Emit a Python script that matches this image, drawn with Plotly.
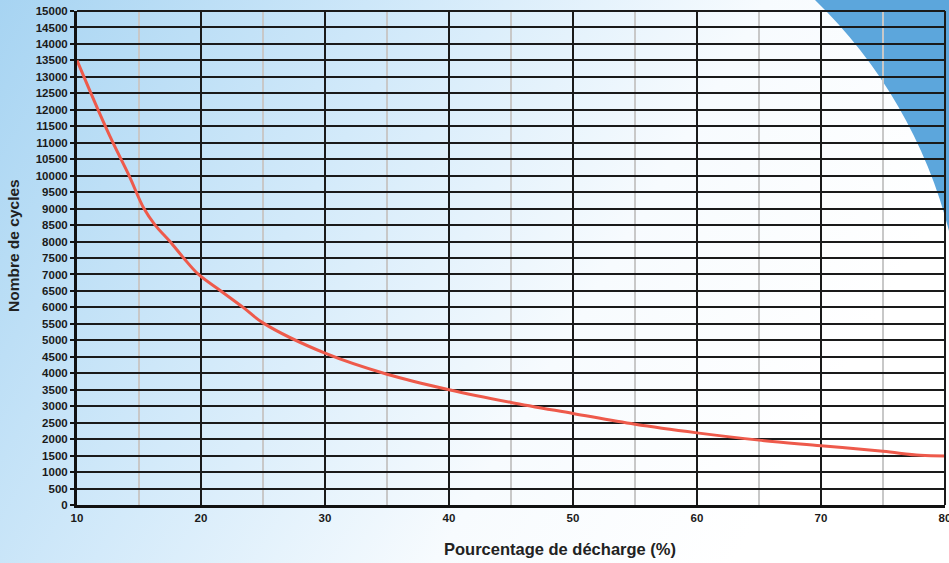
import base64
import plotly.graph_objects as go

# Data
discharge_pct = [10, 11.7, 12.9, 14.2, 15.4, 16.3, 17.5, 18.6, 19.8,
                 21.6, 23.4, 25, 30, 35, 40, 45, 50, 55, 60, 65, 70, 75, 78, 80]
cycles = [13500, 12000, 11000, 10000, 9000, 8500, 8000, 7500, 7000,
          6500, 6000, 5530, 4610, 3970, 3500, 3115, 2780, 2450, 2190, 1970, 1800, 1630, 1510, 1490]

x_ticks = [10, 20, 30, 40, 50, 60, 70, 80]
y_ticks = list(range(0, 15001, 500))

x_title = "Pourcentage de décharge (%)"
y_title = "Nombre de cycles"

W, H = 949, 563
ML, MR, MT, MB = 77, 4, 11, 58
PW, PH = W - ML - MR, H - MT - MB

svg = f"""<svg xmlns='http://www.w3.org/2000/svg' width='{W}' height='{H}' viewBox='0 0 {W} {H}' preserveAspectRatio='none'>
<defs><linearGradient id='g' x1='0' y1='0' x2='1' y2='0.35'>
<stop offset='0' stop-color='#A7D4F2'/>
<stop offset='0.4' stop-color='#D3EAFA'/>
<stop offset='0.72' stop-color='#F7FBFE'/>
<stop offset='1' stop-color='#FFFFFF'/>
</linearGradient></defs>
<rect x='0' y='0' width='{W}' height='{H}' fill='url(#g)'/>
<path d='M815,0 A489,489 0 0,1 949,231 L949,0 Z' fill='#5CA6DC'/>
</svg>"""
src = "data:image/svg+xml;base64," + base64.b64encode(svg.encode()).decode()

fig = go.Figure()
fig.add_trace(go.Scatter(
    x=discharge_pct, y=cycles, mode="lines",
    line=dict(color="#EE5A4B", width=3, shape="spline", smoothing=1.0),
    hoverinfo="skip", showlegend=False,
))

tick_font = dict(family="Liberation Sans, Arial, sans-serif", size=11.5, color="#1a1a1a", weight="bold")
x_title_font = dict(family="Liberation Sans, Arial, sans-serif", size=16.5, color="#222222", weight="bold")
y_title_font = dict(family="Liberation Sans, Arial, sans-serif", size=15.5, color="#222222", weight="bold")

fig.update_layout(
    width=W, height=H,
    margin=dict(l=ML, r=MR, t=MT, b=MB, pad=0, autoexpand=False),
    paper_bgcolor="rgba(0,0,0,0)",
    plot_bgcolor="rgba(0,0,0,0)",
    images=[dict(source=src, xref="paper", yref="paper",
                 x=-ML / PW, y=1 + MT / PH, sizex=W / PW, sizey=H / PH,
                 xanchor="left", yanchor="top", sizing="stretch", layer="below")],
    xaxis=dict(
        range=[10, 80], tickvals=x_ticks, ticktext=[str(v) for v in x_ticks],
        showgrid=True, gridcolor="#1a1a1a", gridwidth=1.6,
        minor=dict(dtick=5, showgrid=True, gridcolor="#C8C8C8", gridwidth=1.6, tick0=5),
        showline=True, linecolor="#111111", linewidth=3, automargin=False,
        ticks="", tickfont=tick_font, zeroline=False, ticklabeloverflow="allow",
    ),
    yaxis=dict(
        range=[0, 15000], tickvals=y_ticks, ticktext=[str(v) for v in y_ticks],
        showgrid=True, gridcolor="#1a1a1a", gridwidth=2,
        showline=True, linecolor="#111111", linewidth=3, automargin=False,
        ticks="outside", ticklen=4, tickcolor="#111111", tickwidth=1.5,
        tickfont=tick_font, zeroline=False,
    ),
    annotations=[
        dict(text=x_title, xref="paper", yref="paper",
             x=(560 - ML) / PW, y=(MT + PH - 549) / PH,
             xanchor="center", yanchor="middle", showarrow=False, font=x_title_font),
        dict(text=y_title, xref="paper", yref="paper",
             x=(13 - ML) / PW, y=(MT + PH - 246) / PH, textangle=-90,
             xanchor="center", yanchor="middle", showarrow=False, font=y_title_font),
    ],
    shapes=[
        dict(type="line", xref="x domain", yref="y domain", x0=1, x1=1, y0=0, y1=1,
             line=dict(color="#1a1a1a", width=2), layer="above"),
        dict(type="line", xref="x domain", yref="y domain", x0=0, x1=1, y0=1, y1=1,
             line=dict(color="#1a1a1a", width=2), layer="above"),
    ],
)

fig.write_html(
    "out.html",
    config={"displayModeBar": False},
    post_script="document.body.style.margin='0';document.body.style.padding='0';"
                "document.documentElement.style.overflow='hidden';",
)
